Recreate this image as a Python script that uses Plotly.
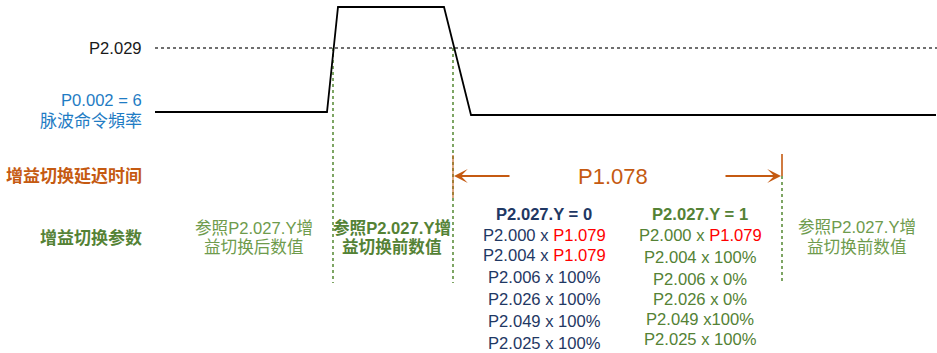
import plotly.graph_objects as go

# ---- diagram data (pixel coordinates of the sketch) ----
wave_x = [155, 327, 338, 444, 471, 936]
wave_y = [112, 112, 7, 7, 115, 115]
thresh_x = [155, 937]
thresh_y = [48, 48]
switch_x = [333, 453, 782]
switch_top = [48, 48, 176]
switch_bottom = [283, 283, 283]

delay_label = "P1.078"
col0_lines = ["<b>P2.027.Y = 0</b>",
              "P2.000 x <span style='color:#ff0000'>P1.079</span>",
              "P2.004 x <span style='color:#ff0000'>P1.079</span>",
              "P2.006 x 100%", "P2.026 x 100%", "P2.049 x 100%", "P2.025 x 100%"]
col0_y = [214, 235, 255, 277, 299, 321, 343]
col1_lines = ["<b>P2.027.Y = 1</b>",
              "P2.000 x <span style='color:#ff0000'>P1.079</span>",
              "P2.004 x 100%", "P2.006 x 0%", "P2.026 x 0%", "P2.049 x100%", "P2.025 x 100%"]
col1_y = [214, 235, 257, 279, 299, 319, 339]

ORANGE = "#c55a11"
GREEN = "#548235"
LGREEN = "#6e9b4c"
NAVY = "#1f3864"
BLUE = "#1f7cc4"
FONT = "Liberation Sans, Arial, Noto Sans CJK SC"

fig = go.Figure()
fig.add_trace(go.Scatter(x=thresh_x, y=thresh_y, mode="lines",
                         line=dict(color="#404040", width=1.6, dash="dot"), hoverinfo="skip"))
for x, t, b in zip(switch_x, switch_top, switch_bottom):
    fig.add_trace(go.Scatter(x=[x, x], y=[t, b], mode="lines",
                             line=dict(color="#5e8f3e", width=1.6, dash="dot"), hoverinfo="skip"))
fig.add_trace(go.Scatter(x=wave_x, y=wave_y, mode="lines",
                         line=dict(color="black", width=1.8), hoverinfo="skip"))
# orange marker lines
fig.add_trace(go.Scatter(x=[453, 453], y=[155, 198], mode="lines",
                         line=dict(color=ORANGE, width=1.3), opacity=0.8, hoverinfo="skip"))
fig.add_trace(go.Scatter(x=[782, 782], y=[154, 176], mode="lines",
                         line=dict(color=ORANGE, width=1.6), hoverinfo="skip"))

ann = []
def T(x, y, text, color, size=16.6, xanchor="center"):
    ann.append(dict(x=x, y=y, text=text, showarrow=False, xanchor=xanchor, yanchor="middle",
                    borderpad=0, font=dict(color=color, size=size, family=FONT)))

T(143, 48, "P2.029", "#1a1a1a", xanchor="right")
T(143, 100, "P0.002 = 6", BLUE, xanchor="right")
T(143, 121, "脉波命令頻率", BLUE, size=17, xanchor="right")
T(143, 176, "<b>增益切换延迟时间</b>", ORANGE, size=17, xanchor="right")
T(143, 238, "<b>增益切换参数</b>", GREEN, size=17, xanchor="right")
T(613, 176, delay_label, ORANGE, size=22)
T(254, 228, "参照P2.027.Y增", LGREEN)
T(254, 247, "益切换后数值", LGREEN)
T(392, 228, "<b>参照P2.027.Y增</b>", GREEN)
T(392, 247, "<b>益切换前数值</b>", GREEN)
T(857, 227, "参照P2.027.Y增", LGREEN)
T(857, 247, "益切换前数值", LGREEN)
for t, y in zip(col0_lines, col0_y):
    T(544, y, t, NAVY)
for t, y in zip(col1_lines, col1_y):
    T(700, y, t, GREEN)

# arrows
for hx, tx in [(454, 511), (781, 724)]:
    ann.append(dict(x=hx, y=176, ax=tx, ay=176, axref="x", ayref="y", xref="x", yref="y",
                    text="", showarrow=True, arrowhead=3, arrowsize=1.15, arrowwidth=2,
                    arrowcolor=ORANGE, standoff=0, startstandoff=0))

fig.update_layout(
    width=937, height=353, margin=dict(l=0, r=0, t=0, b=0),
    paper_bgcolor="white", plot_bgcolor="white", showlegend=False,
    xaxis=dict(range=[0, 937], visible=False, fixedrange=True),
    yaxis=dict(range=[353, 0], visible=False, fixedrange=True),
    annotations=ann,
)
fig.write_html("out.html", config={"displayModeBar": False},
               post_script="document.body.style.margin='0';document.body.style.overflow='hidden';")
